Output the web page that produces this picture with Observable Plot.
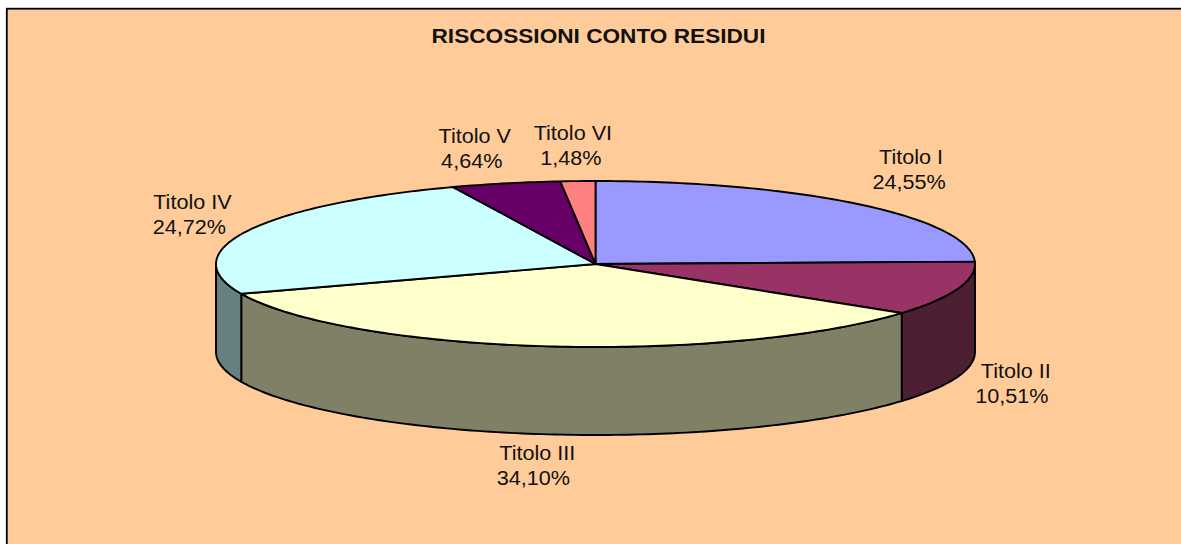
<!DOCTYPE html>
<html lang="it">
<head>
<meta charset="utf-8">
<script src="https://cdn.jsdelivr.net/npm/d3@7"></script>
<script src="https://cdn.jsdelivr.net/npm/@observablehq/plot@0.6"></script>
<style>
html,body{margin:0;padding:0;background:#fff;overflow:hidden;width:1181px;height:544px}
svg{display:block;overflow:hidden}
</style>
</head>
<body>
<div id="chart"></div>
<script>
// data
const titolo = "RISCOSSIONI CONTO RESIDUI";
const categories = ["Titolo I","Titolo II","Titolo III","Titolo IV","Titolo V","Titolo VI"];
const values = [24.55,10.51,34.10,24.72,4.64,1.48];
const percentLabels = ["24,55%","10,51%","34,10%","24,72%","4,64%","1,48%"];

// styles
const topColors  = ["#9999FF","#993366","#FFFFCC","#CCFFFF","#660066","#FF8080"];
const sideColors = ["#4D1F33","#4D1F33","#808066","#668080","#330033","#804040"];
// label offsets from the slice's rim midpoint, in pixels: [dx, dy, second-line dx]
const labelOffsets = [[51,-46.5,-2],[58,83,-4],[-8,107,-4],[-55,-28,-3],[-31,-47,-3],[-5,-47,-2]];
const labelStretch = 1.08;
const lineGap = 25;

// geometry in unit-circle coordinates, run through Plot's x and y scales
const depth = 88 / 83;
const pieLayout = d3.pie().sort(null).startAngle(0).endAngle(2 * Math.PI)(values);
const px = a => Math.sin(a), py = a => -Math.cos(a);
const arcPts = (a0, a1) => {
  const n = Math.max(1, Math.ceil((a1 - a0) / (Math.PI / 180)));
  return d3.range(n + 1).map(i => a0 + (a1 - a0) * i / n);
};
const topRows = pieLayout.flatMap((d, i) => [
  {slice: i, x: 0, y: 0, color: topColors[i]},
  ...arcPts(d.startAngle, d.endAngle).map(a => ({slice: i, x: px(a), y: py(a), color: topColors[i]}))
]);
const sideRows = pieLayout.flatMap((d, i) => {
  const a0 = Math.max(d.startAngle, Math.PI / 2), a1 = Math.min(d.endAngle, 3 * Math.PI / 2);
  if (a1 <= a0) return [];
  const arc = arcPts(a0, a1);
  return [
    ...arc.map(a => ({slice: i, x: px(a), y: py(a), color: sideColors[i]})),
    ...arc.slice().reverse().map(a => ({slice: i, x: px(a), y: py(a) + depth, color: sideColors[i]}))
  ];
});
const labelFont = {fontFamily: "Liberation Sans, Arial, sans-serif", fontSize: 20, fill: "#111"};
const labelMarks = pieLayout.flatMap((d, i) => {
  const mid = (d.startAngle + d.endAngle) / 2;
  const pos = [{x: px(mid), y: py(mid)}];
  const [dx, dy, dx2] = labelOffsets[i];
  return [
    Plot.text(pos, {x: "x", y: "y", text: () => categories[i], dx, dy, ...labelFont, className: "stretch"}),
    Plot.text(pos, {x: "x", y: "y", text: () => percentLabels[i], dx: dx + dx2, dy: dy + lineGap, ...labelFont, className: "stretch"})
  ];
});

const chart = Plot.plot({
  width: 1181, height: 544,
  margin: 0,
  x: {domain: [-1, 1], range: [215.5, 974.5], axis: null},
  y: {domain: [-1, 1], range: [180.5, 346.5], axis: null},
  color: {type: "identity"},
  marks: [
    Plot.frame({fill: "#FFCC99", stroke: "#000", strokeWidth: 1.8, insetLeft: 6.3, insetTop: 8.2, insetRight: -10, insetBottom: -10}),
    Plot.line(sideRows, {x: "x", y: "y", z: "slice", fill: "color", stroke: "#000", strokeWidth: 1.9, curve: "linear-closed"}),
    Plot.line(topRows, {x: "x", y: "y", z: "slice", fill: "color", stroke: "#000", strokeWidth: 1.9, curve: "linear-closed"}),
    Plot.text([titolo], {frameAnchor: "top", dy: 28, dx: 7.5, text: d => d, fontFamily: "Liberation Sans, Arial, sans-serif", fontWeight: "bold", fontSize: 20.5, fill: "#111", className: "title-mark"}),
    ...labelMarks
  ],
  style: {background: "#fff"}
});
document.getElementById("chart").append(chart);

// the source's text is drawn wider than its height: stretch the glyphs horizontally
d3.select(chart).selectAll(".stretch text").each(function () {
  this.setAttribute("textLength", this.getComputedTextLength() * labelStretch);
  this.setAttribute("lengthAdjust", "spacingAndGlyphs");
});
d3.select(chart).selectAll(".title-mark text").each(function () {
  this.setAttribute("textLength", 334);
  this.setAttribute("lengthAdjust", "spacingAndGlyphs");
});
</script>
</body>
</html>
